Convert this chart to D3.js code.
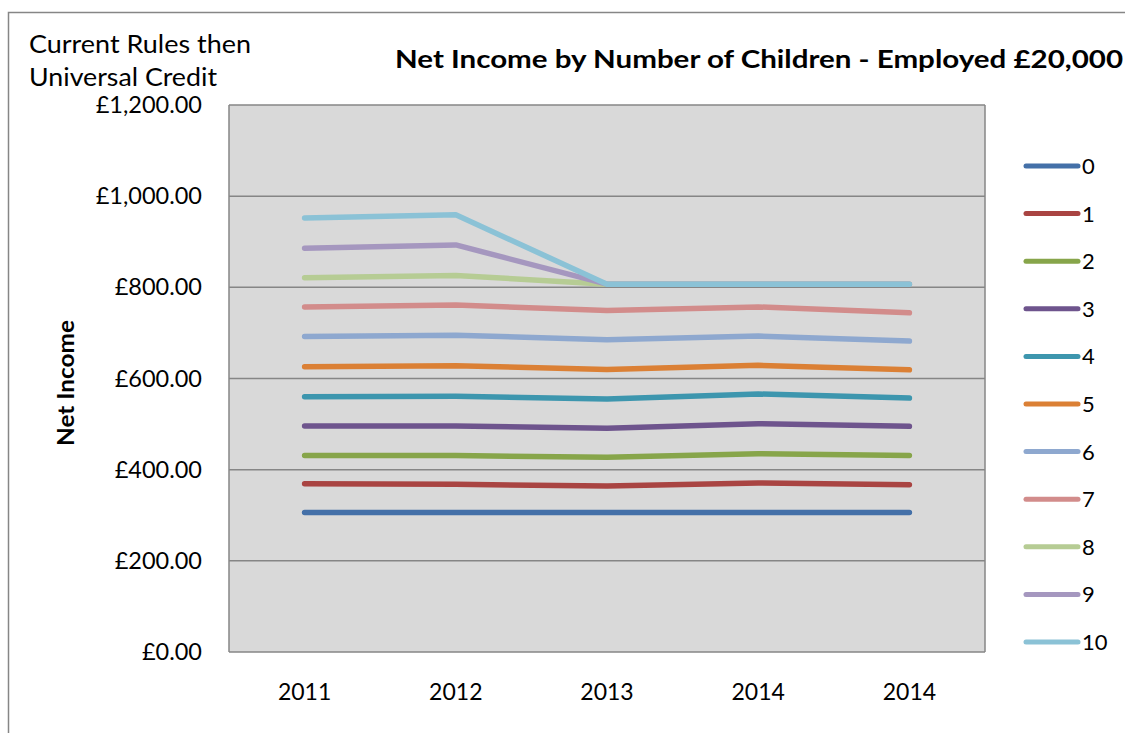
<!DOCTYPE html>
<html>
<head>
<meta charset="utf-8">
<script src="https://cdn.jsdelivr.net/npm/d3@7"></script>
<style>
  body { margin: 0; background: #fff; }
  svg { display: block; font-family: Lato, "Open Sans", sans-serif; }
</style>
</head>
<body>
<svg id="canvas"></svg>
<script>
let width = 1125;
let height = 733;

// data
let years = ['2011', '2012', '2013', '2014', '2014'];
let children = ['0', '1', '2', '3', '4', '5', '6', '7', '8', '9', '10'];
let kids0 = [306, 306, 306, 306, 306];
let kids1 = [369, 368, 364, 371, 367];
let kids2 = [431, 431, 427, 435, 431];
let kids3 = [496, 496, 491, 501, 495];
let kids4 = [560, 561, 555, 566, 557];
let kids5 = [626, 628, 620, 629, 619];
let kids6 = [692, 695, 685, 693, 682];
let kids7 = [757, 761, 749, 757, 744];
let kids8 = [821, 826, 807, 807, 807];
let kids9 = [886, 893, 807, 807, 807];
let kids10 = [952, 959, 807, 807, 807];
let yTicks = [0, 200, 400, 600, 800, 1000, 1200];

let series = [kids0, kids1, kids2, kids3, kids4, kids5, kids6, kids7, kids8, kids9, kids10];
let color = ['#4470a8', '#a94442', '#87a54a', '#6e548d', '#3d96ae', '#db8035',
             '#8ea8cf', '#d28c8b', '#b6cc94', '#a597bf', '#8bc2d6'];

let plot = {left: 229, right: 985, top: 105, bottom: 652};

let canvas = d3.select('#canvas')
  .attr('width', width)
  .attr('height', height);

// outer chart border (runs off the right and bottom)
canvas.append('rect')
  .attr('x', 8.5).attr('y', 12.5)
  .attr('width', 1300).attr('height', 900)
  .attr('fill', 'none')
  .attr('stroke', '#868686')
  .attr('stroke-width', 1.5);

let xScale = d3.scaleBand()
  .domain(d3.range(years.length))
  .range([plot.left, plot.right]);

let yScale = d3.scaleLinear()
  .domain([0, 1200])
  .range([plot.bottom, plot.top]);

let xPos = (i) => xScale(i) + xScale.bandwidth() / 2;

// plot background
canvas.append('rect')
  .attr('x', plot.left).attr('y', plot.top)
  .attr('width', plot.right - plot.left)
  .attr('height', plot.bottom - plot.top)
  .attr('fill', '#d9d9d9');

// gridlines
canvas.append('g')
  .selectAll('line')
  .data(yTicks)
  .enter()
  .append('line')
  .attr('x1', plot.left)
  .attr('x2', plot.right)
  .attr('y1', (d) => yScale(d))
  .attr('y2', (d) => yScale(d))
  .attr('stroke', '#868686')
  .attr('stroke-width', 1.5);

canvas.append('line')
  .attr('x1', plot.left).attr('x2', plot.left)
  .attr('y1', plot.top).attr('y2', plot.bottom)
  .attr('stroke', '#868686').attr('stroke-width', 1.5);
canvas.append('line')
  .attr('x1', plot.right).attr('x2', plot.right)
  .attr('y1', plot.top).attr('y2', plot.bottom)
  .attr('stroke', '#868686').attr('stroke-width', 1.5);

// y axis
let yAxis = d3.axisLeft(yScale)
  .tickValues(yTicks)
  .tickSize(0)
  .tickPadding(27)
  .tickFormat((d) => '£' + d3.format(',.2f')(d));

let yG = canvas.append('g')
  .attr('transform', 'translate(' + plot.left + ',0)')
  .call(yAxis);
yG.select('.domain').remove();
yG.selectAll('text')
  .attr('font-family', 'Lato, sans-serif')
  .attr('font-size', 23.5)
  .attr('fill', '#000');

// x axis
let xAxis = d3.axisBottom(xScale)
  .tickSize(0)
  .tickPadding(32)
  .tickFormat((i) => years[i]);

let xG = canvas.append('g')
  .attr('transform', 'translate(0,' + plot.bottom + ')')
  .call(xAxis);
xG.select('.domain').remove();
xG.selectAll('text')
  .attr('font-family', 'Lato, sans-serif')
  .attr('font-size', 23)
  .attr('fill', '#000');

// lines
let line = d3.line()
  .x((d, i) => xPos(i))
  .y((d) => yScale(d));

canvas.append('g')
  .selectAll('path')
  .data(series)
  .enter()
  .append('path')
  .attr('d', (d) => line(d))
  .attr('fill', 'none')
  .attr('stroke', (d, i) => color[i])
  .attr('stroke-width', 5.5)
  .attr('stroke-linecap', 'round')
  .attr('stroke-linejoin', 'round');

// legend
let legendY = d3.scalePoint()
  .domain(children)
  .range([166, 642]);

let legend = canvas.append('g')
  .selectAll('g')
  .data(children)
  .enter()
  .append('g')
  .attr('transform', (d) => 'translate(1026,' + legendY(d) + ')');

legend.append('line')
  .attr('x1', 0).attr('x2', 52)
  .attr('stroke', (d, i) => color[i])
  .attr('stroke-width', 5)
  .attr('stroke-linecap', 'round');

legend.append('text')
  .attr('x', 56)
  .attr('dy', '0.36em')
  .attr('font-size', 22)
  .text((d) => d);

// titles
canvas.append('text')
  .attr('x', 395).attr('y', 68)
  .attr('font-size', 25)
  .attr('font-weight', 'bold')
  .attr('textLength', 728)
  .attr('lengthAdjust', 'spacingAndGlyphs')
  .text('Net Income by Number of Children - Employed £20,000');

canvas.append('text')
  .attr('x', 29).attr('y', 53)
  .attr('font-size', 25)
  .attr('textLength', 222)
  .attr('lengthAdjust', 'spacingAndGlyphs')
  .text('Current Rules then');
canvas.append('text')
  .attr('x', 29).attr('y', 86)
  .attr('font-size', 25)
  .attr('textLength', 188)
  .attr('lengthAdjust', 'spacingAndGlyphs')
  .text('Universal Credit');

canvas.append('text')
  .attr('transform', 'translate(74,383) rotate(-90)')
  .attr('text-anchor', 'middle')
  .attr('font-size', 22)
  .attr('font-weight', 'bold')
  .attr('textLength', 126)
  .attr('lengthAdjust', 'spacingAndGlyphs')
  .text('Net Income');
</script>
</body>
</html>
